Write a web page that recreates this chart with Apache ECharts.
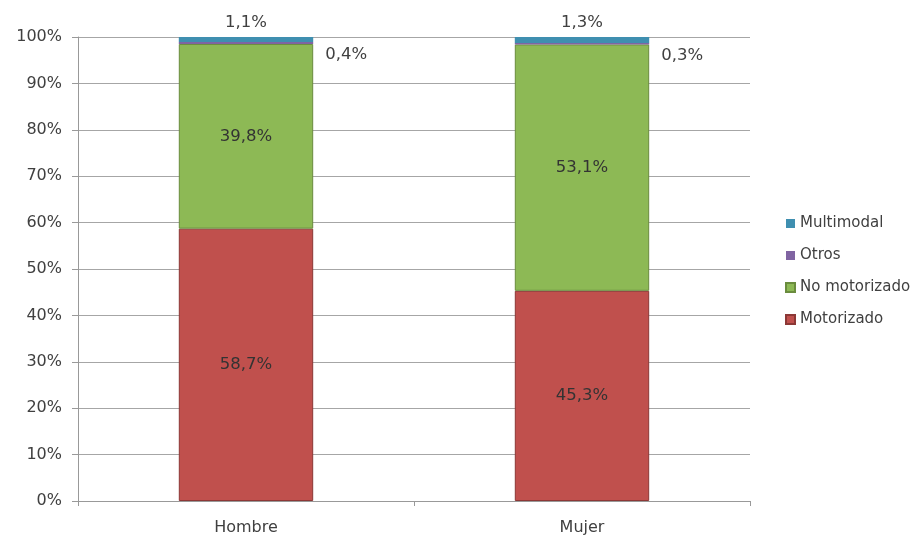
<!DOCTYPE html>
<html>
<head>
<meta charset="utf-8">
<script src="https://cdn.jsdelivr.net/npm/echarts@6/dist/echarts.min.js"></script>
<style>
  html, body { margin: 0; padding: 0; background: #fff; }
  #chart { width: 915px; height: 538px; }
</style>
</head>
<body>
<div id="chart"></div>
<script>
var categories = ['Hombre', 'Mujer'];
var motorizado = [58.7, 45.3];
var noMotorizado = [39.8, 53.1];
var otros = [0.4, 0.3];
var multimodal = [1.1, 1.3];
var yTicks = [0, 10, 20, 30, 40, 50, 60, 70, 80, 90, 100];

var chartDom = document.getElementById('chart');
var myChart = echarts.init(chartDom);
var font = 'DejaVu Sans';

// 58.7 -> "58,7%"
var fmt = function (p) {
  return p.value.toFixed(1).replace('.', ',') + '%';
};

var option = {
  animation: false,
  textStyle: { fontFamily: font },
  grid: { left: 78, right: 165, top: 37, bottom: 37 },
  legend: {
    orient: 'vertical',
    left: 780,
    top: 211,
    itemWidth: 9,
    itemHeight: 9,
    itemGap: 17,
    icon: 'rect',
    textStyle: { fontFamily: font, fontSize: 15, color: '#404040' },
    data: ['Multimodal', 'Otros', 'No motorizado', 'Motorizado']
  },
  xAxis: {
    type: 'category',
    data: categories,
    axisLine: { lineStyle: { color: '#999' } },
    axisTick: { show: true, length: 5, lineStyle: { color: '#999' } },
    axisLabel: { fontSize: 16, color: '#404040', margin: 19 }
  },
  yAxis: {
    type: 'value',
    min: yTicks[0],
    max: yTicks[yTicks.length - 1],
    interval: 10,
    axisLine: { show: true, lineStyle: { color: '#999' } },
    axisTick: { show: true, length: 6, lineStyle: { color: '#999' } },
    axisLabel: { fontSize: 16, color: '#404040', margin: 16, formatter: '{value}%' },
    splitLine: { lineStyle: { color: '#a6a6a6', width: 1.2 } }
  },
  series: [
    {
      name: 'Motorizado',
      type: 'bar',
      stack: 'total',
      barWidth: '40%',
      data: motorizado,
      itemStyle: { color: '#C0504D', borderColor: '#8c3836', borderWidth: 1 },
      label: { show: true, position: 'inside', formatter: fmt, fontSize: 16.5, color: '#333' }
    },
    {
      name: 'No motorizado',
      type: 'bar',
      stack: 'total',
      data: noMotorizado,
      itemStyle: { color: '#8DB955', borderColor: '#6a8c3e', borderWidth: 1 },
      label: { show: true, position: 'inside', formatter: fmt, fontSize: 16.5, color: '#333' }
    },
    {
      name: 'Otros',
      type: 'bar',
      stack: 'total',
      data: otros,
      itemStyle: { color: '#8064A2' },
      label: { show: true, position: 'right', distance: 12, offset: [0, 12], formatter: fmt, fontSize: 16.5, color: '#404040' }
    },
    {
      name: 'Multimodal',
      type: 'bar',
      stack: 'total',
      data: multimodal,
      itemStyle: { color: '#3f8fb0' },
      label: { show: true, position: 'top', distance: 6, formatter: fmt, fontSize: 16.5, color: '#404040' }
    }
  ]
};

option && myChart.setOption(option);
</script>
</body>
</html>
